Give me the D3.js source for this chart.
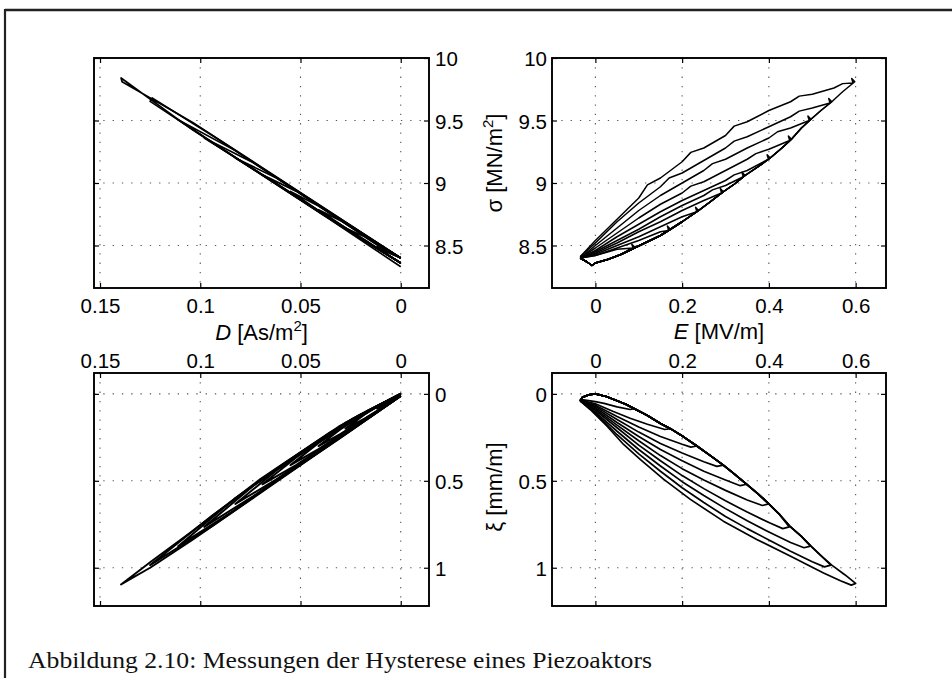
<!DOCTYPE html>
<html><head><meta charset="utf-8">
<script src="https://cdn.jsdelivr.net/npm/d3@7"></script>
<style>body{margin:0;background:#fff} svg{display:block}</style>
</head><body>
<svg id="c" width="952" height="678"></svg>
<script>
// ---------- data ----------
const dTicks = [0.15, 0.1, 0.05, 0];
const dTickLabels = ["0.15", "0.1", "0.05", "0"];
const eTicks = [0, 0.2, 0.4, 0.6];
const eTickLabels = ["0", "0.2", "0.4", "0.6"];
const sigmaTicks = [8.5, 9, 9.5, 10];
const sigmaTickLabels = ["8.5", "9", "9.5", "10"];
const xiTicks = [0, 0.5, 1];
const xiTickLabels = ["0", "0.5", "1"];
const captionText = "Abbildung 2.10: Messungen der Hysterese eines Piezoaktors";

// sigma vs E : common rising branch
const sigmaEUp = [[-0.035,8.40],[-0.02,8.37],[-0.008,8.34],[0.0,8.36],[0.03,8.39],[0.06,8.43],[0.09,8.48],[0.12,8.53],[0.15,8.58],[0.173,8.63],[0.20,8.69],[0.238,8.78],[0.265,8.85],[0.295,8.93],[0.32,8.99],[0.345,9.06],[0.375,9.13],[0.403,9.20],[0.43,9.28],[0.452,9.35],[0.475,9.44],[0.497,9.51],[0.52,9.58],[0.545,9.65],[0.57,9.73],[0.598,9.81]];
// sigma vs E : falling branches (one per loop)
const sigmaEDown = [
 [[0.09,8.49],[0.084,8.51],[0.087,8.48],[0.05,8.47],[0.02,8.44],[0.0,8.42],[-0.035,8.40]],
 [[0.173,8.63],[0.166,8.655],[0.169,8.62],[0.15,8.61],[0.10,8.54],[0.05,8.48],[0.0,8.42],[-0.035,8.40]],
 [[0.238,8.78],[0.231,8.805],[0.234,8.77],[0.20,8.73],[0.15,8.65],[0.10,8.57],[0.05,8.50],[0.0,8.43],[-0.035,8.40]],
 [[0.295,8.93],[0.288,8.955],[0.291,8.92],[0.25,8.86],[0.20,8.78],[0.15,8.69],[0.10,8.61],[0.05,8.52],[0.0,8.44],[-0.035,8.40]],
 [[0.345,9.06],[0.338,9.085],[0.341,9.05],[0.30,8.98],[0.27,8.945],[0.25,8.90],[0.20,8.82],[0.15,8.73],[0.10,8.63],[0.05,8.54],[0.0,8.45],[-0.035,8.40]],
 [[0.403,9.20],[0.396,9.225],[0.399,9.19],[0.35,9.10],[0.32,9.065],[0.30,9.02],[0.25,8.94],[0.20,8.86],[0.15,8.77],[0.10,8.67],[0.05,8.57],[0.0,8.46],[-0.035,8.40]],
 [[0.452,9.35],[0.445,9.375],[0.448,9.34],[0.40,9.27],[0.37,9.235],[0.35,9.19],[0.30,9.10],[0.25,9.01],[0.22,8.975],[0.20,8.92],[0.15,8.83],[0.10,8.72],[0.05,8.60],[0.0,8.48],[-0.035,8.40]],
 [[0.497,9.51],[0.49,9.535],[0.493,9.50],[0.45,9.44],[0.42,9.41],[0.40,9.36],[0.35,9.28],[0.30,9.19],[0.27,9.155],[0.25,9.10],[0.20,9.00],[0.15,8.90],[0.10,8.78],[0.05,8.64],[0.0,8.50],[-0.035,8.40]],
 [[0.545,9.65],[0.538,9.675],[0.541,9.64],[0.50,9.60],[0.47,9.575],[0.45,9.53],[0.40,9.45],[0.35,9.37],[0.32,9.335],[0.30,9.28],[0.25,9.18],[0.20,9.08],[0.17,9.04],[0.15,8.97],[0.10,8.84],[0.05,8.69],[0.0,8.52],[-0.035,8.41]],
 [[0.598,9.81],[0.591,9.835],[0.594,9.80],[0.57,9.795],[0.55,9.76],[0.50,9.71],[0.47,9.695],[0.45,9.65],[0.40,9.58],[0.35,9.49],[0.32,9.455],[0.30,9.38],[0.25,9.28],[0.22,9.245],[0.20,9.17],[0.15,9.04],[0.12,8.985],[0.10,8.88],[0.05,8.71],[0.0,8.54],[-0.035,8.41]]
];

// xi vs E : common rising branch
const xiEUp = [[-0.035,0.04],[-0.03,0.02],[-0.015,0.005],[0.0,0.0],[0.025,0.015],[0.05,0.04],[0.07,0.06],[0.09,0.085],[0.12,0.125],[0.15,0.17],[0.173,0.20],[0.205,0.25],[0.234,0.30],[0.265,0.355],[0.295,0.41],[0.32,0.46],[0.349,0.52],[0.375,0.575],[0.40,0.633],[0.425,0.695],[0.448,0.76],[0.475,0.82],[0.497,0.876],[0.52,0.93],[0.545,0.985],[0.575,1.04],[0.60,1.09]];
// xi vs E : falling branches
const xiEDown = [
 [[0.09,0.085],[0.08,0.09],[0.05,0.075],[0.02,0.055],[0.0,0.045],[-0.035,0.032]],
 [[0.173,0.20],[0.16,0.205],[0.12,0.175],[0.08,0.14],[0.04,0.10],[0.0,0.057],[-0.035,0.034]],
 [[0.234,0.30],[0.22,0.306],[0.20,0.29],[0.15,0.245],[0.10,0.19],[0.05,0.13],[0.0,0.065],[-0.035,0.036]],
 [[0.295,0.41],[0.28,0.417],[0.25,0.39],[0.20,0.34],[0.15,0.285],[0.10,0.22],[0.05,0.148],[0.0,0.072],[-0.035,0.038]],
 [[0.349,0.52],[0.334,0.528],[0.30,0.495],[0.25,0.445],[0.20,0.385],[0.15,0.32],[0.10,0.245],[0.05,0.165],[0.0,0.08],[-0.035,0.04]],
 [[0.40,0.633],[0.385,0.642],[0.35,0.61],[0.30,0.555],[0.25,0.495],[0.20,0.43],[0.15,0.355],[0.10,0.27],[0.05,0.18],[0.0,0.088],[-0.035,0.04]],
 [[0.447,0.765],[0.432,0.775],[0.40,0.74],[0.35,0.68],[0.30,0.615],[0.25,0.545],[0.20,0.47],[0.15,0.385],[0.10,0.295],[0.05,0.195],[0.0,0.095],[-0.035,0.04]],
 [[0.496,0.876],[0.481,0.885],[0.45,0.855],[0.40,0.795],[0.35,0.73],[0.30,0.66],[0.25,0.585],[0.20,0.505],[0.15,0.415],[0.10,0.32],[0.05,0.215],[0.0,0.105],[-0.035,0.04]],
 [[0.543,0.985],[0.528,0.995],[0.50,0.965],[0.45,0.905],[0.40,0.84],[0.35,0.775],[0.30,0.705],[0.25,0.625],[0.20,0.54],[0.15,0.445],[0.10,0.345],[0.05,0.235],[0.0,0.11],[-0.035,0.04]],
 [[0.60,1.09],[0.59,1.10],[0.565,1.075],[0.526,1.03],[0.449,0.933],[0.372,0.837],[0.295,0.732],[0.219,0.607],[0.157,0.49],[0.104,0.378],[0.065,0.291],[0.027,0.186],[-0.012,0.09],[-0.035,0.04]]
];

// sigma vs D loops
const sigmaDLoops = [
 [[0,8.36],[0.006,8.42],[0.0118,8.49],[0.006,8.44],[0,8.40]],
 [[0,8.36],[0.009,8.452],[0.018,8.546],[0.0276,8.639],[0.018,8.57],[0.009,8.476],[0,8.40]],
 [[0,8.36],[0.010,8.46],[0.020,8.564],[0.030,8.669],[0.041,8.786],[0.030,8.699],[0.020,8.594],[0.010,8.49],[0,8.40]],
 [[0,8.36],[0.014,8.498],[0.027,8.634],[0.041,8.78],[0.055,8.932],[0.041,8.816],[0.027,8.67],[0.014,8.534],[0,8.40]],
 [[0,8.36],[0.017,8.528],[0.035,8.716],[0.052,8.893],[0.069,9.066],[0.052,8.933],[0.035,8.756],[0.017,8.568],[0,8.40]],
 [[0,8.36],[0.021,8.567],[0.041,8.776],[0.062,8.996],[0.0825,9.20],[0.062,9.04],[0.041,8.82],[0.021,8.611],[0,8.40]],
 [[0,8.36],[0.0245,8.602],[0.049,8.858],[0.0735,9.114],[0.098,9.36],[0.0735,9.162],[0.049,8.906],[0.0245,8.65],[0,8.40]],
 [[0,8.36],[0.028,8.637],[0.0555,8.924],[0.083,9.211],[0.111,9.506],[0.083,9.263],[0.0555,8.976],[0.028,8.689],[0,8.40]],
 [[0,8.36],[0.031,8.666],[0.0625,8.995],[0.094,9.324],[0.125,9.653],[0.124,9.68],[0.094,9.38],[0.0625,9.051],[0.031,8.722],[0,8.40]],
 [[0,8.33],[0.035,8.706],[0.07,9.072],[0.104,9.427],[0.1395,9.84],[0.139,9.81],[0.104,9.487],[0.07,9.132],[0.035,8.766],[0,8.40]]
];

// xi vs D loops
const xiDLoops = [
 [[0,0],[0.006,0.035],[0.0118,0.085],[0.006,0.05],[0,0.008]],
 [[0,0],[0.009,0.055],[0.018,0.118],[0.0276,0.20],[0.018,0.142],[0.009,0.077],[0,0.01]],
 [[0,0],[0.010,0.06],[0.020,0.13],[0.030,0.203],[0.041,0.30],[0.030,0.23],[0.020,0.158],[0.010,0.086],[0,0.01]],
 [[0,0],[0.014,0.084],[0.027,0.177],[0.041,0.282],[0.055,0.41],[0.041,0.318],[0.027,0.213],[0.014,0.118],[0,0.01]],
 [[0,0],[0.017,0.10],[0.035,0.233],[0.052,0.364],[0.069,0.52],[0.052,0.408],[0.035,0.277],[0.017,0.145],[0,0.012]],
 [[0,0],[0.021,0.124],[0.041,0.274],[0.062,0.44],[0.0825,0.633],[0.062,0.492],[0.041,0.326],[0.021,0.176],[0,0.012]],
 [[0,0],[0.0245,0.146],[0.049,0.332],[0.0735,0.528],[0.098,0.765],[0.0735,0.588],[0.049,0.392],[0.0245,0.206],[0,0.012]],
 [[0,0],[0.028,0.169],[0.0555,0.381],[0.083,0.604],[0.111,0.876],[0.083,0.67],[0.0555,0.447],[0.028,0.235],[0,0.012]],
 [[0,0],[0.031,0.189],[0.0625,0.434],[0.094,0.70],[0.125,0.985],[0.094,0.76],[0.0625,0.506],[0.031,0.261],[0,0.012]],
 [[0,0],[0.035,0.22],[0.07,0.49],[0.104,0.79],[0.125,0.968],[0.1395,1.096],[0.125,1.0],[0.104,0.84],[0.07,0.57],[0.035,0.29],[0,0.012]]
];

// ---------- build loops in sigma-E and xi-E from shared rising branch ----------
function buildLoops(up, downs) {
  return downs.map(dn => {
    const et = dn[0][0];
    return up.filter(p => p[0] < et - 0.003).concat(dn);
  });
}
const sigmaELoops = buildLoops(sigmaEUp, sigmaEDown);
const xiELoops = buildLoops(xiEUp, xiEDown);

// ---------- drawing ----------
const svg = d3.select("#c");
const FONT = "'Liberation Sans', Arial, Helvetica, sans-serif";

// outer frame
svg.append("line").attr("x1",5).attr("x2",952).attr("y1",10).attr("y2",10).attr("stroke","#222").attr("stroke-width",2.4);
svg.append("line").attr("x1",5).attr("x2",5).attr("y1",9).attr("y2",678).attr("stroke","#222").attr("stroke-width",2.2);

const L = {x0:94, x1:429}, R = {x0:552, x1:886}, T = {y0:58, y1:288}, B = {y0:373, y1:606};

const panels = [
  {bx:L, by:T, x:d3.scaleLinear([0.153,-0.0141],[L.x0,L.x1]), y:d3.scaleLinear([8.16,10],[T.y1,T.y0]),
   xt:dTicks, xl:dTickLabels, yt:sigmaTicks, yl:sigmaTickLabels, xSide:"bottom", ySide:"right", data:sigmaDLoops, lw:1.7},
  {bx:R, by:T, x:d3.scaleLinear([-0.1,0.67],[R.x0,R.x1]), y:d3.scaleLinear([8.16,10],[T.y1,T.y0]),
   xt:eTicks, xl:eTickLabels, yt:sigmaTicks, yl:sigmaTickLabels, xSide:"bottom", ySide:"left", data:sigmaELoops, lw:1.5},
  {bx:L, by:B, x:d3.scaleLinear([0.153,-0.0141],[L.x0,L.x1]), y:d3.scaleLinear([-0.12,1.22],[B.y0,B.y1]),
   xt:dTicks, xl:dTickLabels, yt:xiTicks, yl:xiTickLabels, xSide:"top", ySide:"right", data:xiDLoops, lw:2.0},
  {bx:R, by:B, x:d3.scaleLinear([-0.1,0.67],[R.x0,R.x1]), y:d3.scaleLinear([-0.12,1.22],[B.y0,B.y1]),
   xt:eTicks, xl:eTickLabels, yt:xiTicks, yl:xiTickLabels, xSide:"top", ySide:"left", data:xiELoops, lw:1.7}
];

panels.forEach((p, i) => {
  const g = svg.append("g");
  const x0 = p.bx.x0, x1 = p.bx.x1, y0 = p.by.y0, y1 = p.by.y1;
  // grid
  g.append("g").selectAll("line").data(p.xt).join("line")
    .attr("x1", d => p.x(d)).attr("x2", d => p.x(d)).attr("y1", y0).attr("y2", y1)
    .attr("stroke", "#555").attr("stroke-width", 1.1).attr("stroke-dasharray", "1.3,8");
  g.append("g").selectAll("line").data(p.yt).join("line")
    .attr("y1", d => p.y(d)).attr("y2", d => p.y(d)).attr("x1", x0).attr("x2", x1)
    .attr("stroke", "#555").attr("stroke-width", 1.1).attr("stroke-dasharray", "1.3,8");
  // data
  const clipId = "clip" + i;
  svg.append("clipPath").attr("id", clipId).append("rect")
    .attr("x", x0).attr("y", y0).attr("width", x1 - x0).attr("height", y1 - y0);
  const line = d3.line().x(d => p.x(d[0])).y(d => p.y(d[1]));
  g.append("g").attr("clip-path", `url(#${clipId})`).selectAll("path").data(p.data).join("path")
    .attr("d", line).attr("fill", "none").attr("stroke", "#000")
    .attr("stroke-width", p.lw).attr("stroke-linejoin", "round");
  // axes (ticks inside)
  const xFmt = (d, k) => p.xl[k], yFmt = (d, k) => p.yl[k];
  const axB = d3.axisBottom(p.x).tickValues(p.xt).tickSize(-5).tickPadding(10)
    .tickFormat(p.xSide === "bottom" ? xFmt : () => "");
  const axT = d3.axisTop(p.x).tickValues(p.xt).tickSize(-5).tickPadding(5)
    .tickFormat(p.xSide === "top" ? xFmt : () => "");
  const axLft = d3.axisLeft(p.y).tickValues(p.yt).tickSize(-5).tickPadding(5)
    .tickFormat(p.ySide === "left" ? yFmt : () => "");
  const axRgt = d3.axisRight(p.y).tickValues(p.yt).tickSize(-5).tickPadding(6)
    .tickFormat(p.ySide === "right" ? yFmt : () => "");
  const addAx = (ax, tr) => {
    const a = g.append("g").attr("transform", tr).call(ax);
    a.select(".domain").remove();
    a.selectAll("line").attr("stroke", "#000").attr("stroke-width", 1.2);
    a.selectAll("text").attr("font-family", FONT).attr("font-size", 20.5).attr("fill", "#000");
    return a;
  };
  addAx(axB, `translate(0,${y1})`);
  addAx(axT, `translate(0,${y0})`);
  const la = addAx(axLft, `translate(${x0},0)`);
  const ra = addAx(axRgt, `translate(${x1},0)`);
  la.selectAll("text").attr("dy", "0.38em");
  ra.selectAll("text").attr("dy", "0.38em");
  // box
  g.append("rect").attr("x", x0).attr("y", y0).attr("width", x1 - x0).attr("height", y1 - y0)
    .attr("fill", "none").attr("stroke", "#000").attr("stroke-width", 1.9);
});

// axis labels
function label(x, y, rot, parts) {
  const t = svg.append("text").attr("transform", `translate(${x},${y}) rotate(${rot})`)
    .attr("text-anchor", "middle").attr("font-family", FONT).attr("font-size", 22).attr("fill", "#000");
  parts.forEach(pt => {
    const s = t.append("tspan").text(pt.t);
    if (pt.i) s.attr("font-style", "italic");
    if (pt.sup) s.attr("font-size", 15).attr("dy", -9);
    if (pt.down) s.attr("dy", 9);
  });
}
label(261.5, 340, 0, [{t:"D", i:true}, {t:" [As/m"}, {t:"2", sup:true}, {t:"]", down:true}]);
label(719, 339, 0, [{t:"E", i:true}, {t:" [MV/m]"}]);
label(502, 163, -90, [{t:"σ [MN/m"}, {t:"2", sup:true}, {t:"]", down:true}]);
label(502, 487, -90, [{t:"ξ [mm/m]"}]);

// caption
svg.append("text").attr("x", 28).attr("y", 668)
  .attr("font-family", "'Liberation Serif', 'Times New Roman', serif").attr("font-size", 23)
  .attr("fill", "#111").attr("textLength", 624).attr("lengthAdjust", "spacingAndGlyphs")
  .text(captionText);
</script>
</body></html>
